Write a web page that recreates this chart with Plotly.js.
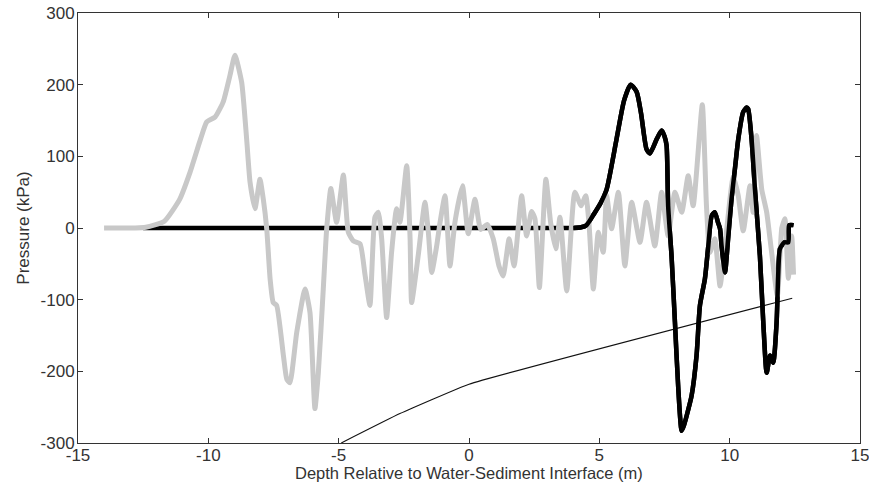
<!DOCTYPE html>
<html><head><meta charset="utf-8">
<script src="https://cdn.plot.ly/plotly-3.0.1.min.js"></script>
<style>html,body{margin:0;padding:0;background:#fff}#chart{width:869px;height:495px}</style>
</head><body><div id="chart"></div>
<script>
// Gray trace (pressure vs depth)
const grayDepth = [-14.0,-12.8,-12.4,-11.7,-11.1,-10.7,-10.3,-10.06,-9.74,-9.43,-9.17,-8.98,-8.72,-8.53,-8.4,-8.21,-8.02,-7.89,-7.76,-7.63,-7.51,-7.38,-7.12,-6.99,-6.87,-6.61,-6.29,-6.1,-5.91,-5.78,-5.59,-5.46,-5.3,-5.08,-4.82,-4.63,-4.44,-4.18,-3.99,-3.8,-3.61,-3.48,-3.35,-3.16,-2.97,-2.78,-2.65,-2.39,-2.26,-2.2,-1.95,-1.69,-1.56,-1.43,-1.24,-1.11,-0.92,-0.73,-0.54,-0.25,-0.03,0.23,0.45,0.7,0.93,1.15,1.31,1.54,1.73,2.02,2.21,2.4,2.53,2.7,2.95,3.13,3.33,3.49,3.75,4.06,4.3,4.48,4.6,4.77,4.96,5.15,5.28,5.47,5.73,5.98,6.24,6.56,6.81,7.13,7.39,7.64,7.9,8.16,8.41,8.6,8.95,9.11,9.24,9.43,9.63,9.82,10.14,10.33,10.52,10.78,10.9,11.03,11.23,11.42,11.61,11.83,12.0,12.12,12.25,12.38,12.45];
const grayPressure = [0,0,1,9,40,78,124,148,155,176,213,241,203,124,64,27,68,40,-1,-71,-104,-108,-178,-211,-216,-146,-85,-118,-252,-202,-85,-1,55,8,74,-6,-18,-22,-65,-108,15,22,-15,-125,-34,27,8,87,-15,-104,-39,36,-6,-62,-25,8,45,-53,8,59,-8,40,-2,5,-15,-53,-67,-15,-53,45,-11,23,13,-83,68,8,-29,15,-88,50,31,45,8,-85,-6,-34,45,-1,50,-53,36,-20,36,-25,50,-11,50,22,73,31,172,31,-34,-15,-81,-25,72,45,-4,59,22,129,54,22,-34,-95,0,13,-70,-11,-65];

// Black trace (pressure vs depth)
const blackDepth = [-12.5,4.0,4.3,4.51,4.8,5.05,5.28,5.66,5.95,6.2,6.43,6.6,6.81,6.94,7.2,7.39,7.5,7.58,7.64,7.77,7.9,8.03,8.16,8.25,8.35,8.54,8.73,8.86,9.05,9.18,9.31,9.43,9.55,9.63,9.69,9.82,9.94,10.07,10.2,10.33,10.52,10.65,10.71,10.84,10.97,11.16,11.29,11.42,11.55,11.67,11.8,11.86,11.93,12.1,12.25,12.28,12.45];
const blackPressure = [0,0,1,4,20,35,54,124,178,200,190,160,110,104,124,136,128,115,31,-39,-131,-225,-283,-275,-262,-234,-178,-108,-71,-25,17,22,8,-1,-25,-62,-15,40,82,124,162,168,166,124,54,-39,-132,-202,-178,-188,-132,-67,-29,-20,-20,4,4];

// Thin reference line
const lineDepth = [-4.9, -2.65, 0, 12.4];
const linePressure = [-300, -259, -218, -98];

// Axis ticks and titles
const xTicks = [-15,-10,-5,0,5,10,15];
const yTicks = [-300,-200,-100,0,100,200,300];
const xTitle = 'Depth Relative to Water-Sediment Interface (m)';
const yTitle = 'Pressure (kPa)';

const activeStart = 4.0;
const blackActiveDepth = blackDepth.filter(d => d >= activeStart);
const blackActivePressure = blackPressure.filter((p, i) => blackDepth[i] >= activeStart);

const traces = [
  {x: lineDepth, y: linePressure, mode: 'lines', line: {color: '#111', width: 1.1, shape: 'spline', smoothing: 0.3}, hoverinfo: 'skip'},
  {x: blackDepth, y: blackPressure, mode: 'lines', line: {color: '#000', width: 4.5, shape: 'spline', smoothing: 0.6}},
  {x: grayDepth, y: grayPressure, mode: 'lines', line: {color: '#c8c8c8', width: 5, shape: 'spline', smoothing: 0.5}},
  {x: blackActiveDepth, y: blackActivePressure, mode: 'lines', line: {color: '#000', width: 4.5, shape: 'spline', smoothing: 0.6}}
];

const fnt = {family: 'Liberation Sans, Arial, sans-serif', size: 17, color: '#333'};
const titleFnt = {family: 'Liberation Sans, Arial, sans-serif', size: 16.5, color: '#333'};
const layout = {
  width: 869, height: 495,
  margin: {l: 78, r: 9, t: 13, b: 52},
  paper_bgcolor: '#fff', plot_bgcolor: '#fff',
  showlegend: false,
  font: fnt,
  xaxis: {
    range: [-15, 15], tickvals: xTicks, ticktext: xTicks.map(String),
    ticks: 'inside', ticklen: 5, tickcolor: '#333', showline: true, linecolor: '#333', linewidth: 1,
    mirror: 'ticks', showgrid: false, zeroline: false, ticklabelstandoff: -3,
    ticklabeloverflow: 'allow',
    tickfont: fnt
  },
  yaxis: {
    range: [-300, 300], tickvals: yTicks, ticktext: yTicks.map(String),
    ticks: 'inside', ticklen: 5, tickcolor: '#333', showline: true, linecolor: '#333', linewidth: 1,
    mirror: 'ticks', showgrid: false, zeroline: false, ticklabelstandoff: -1,
    title: {text: yTitle, font: fnt, standoff: 6},
    tickfont: fnt
  },
  annotations: [{
    text: xTitle, xref: 'paper', yref: 'paper', x: 0.5, y: 0,
    xanchor: 'center', yanchor: 'middle', yshift: -30, showarrow: false, font: titleFnt
  }]
};
Plotly.newPlot('chart', traces, layout, {displayModeBar: false, staticPlot: true});
</script>
</body></html>
